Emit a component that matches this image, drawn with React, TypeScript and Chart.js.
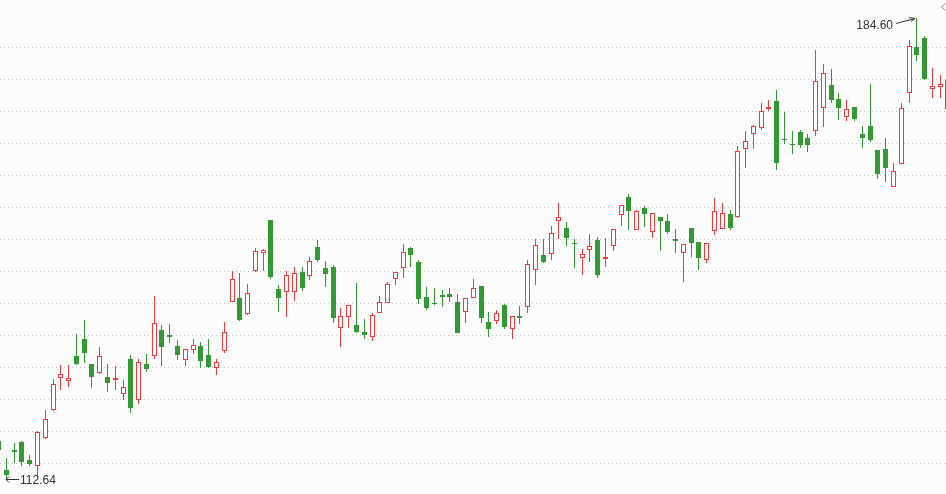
import React, { useEffect, useRef } from "react";
import { Chart, registerables } from "chart.js";

Chart.register(...registerables);

// Index of the first candle in the arrays (one candle is cut off at the left edge)
const FIRST_INDEX = -1;

const opens = [
  118.48, 113.91, 117.0, 118.28, 115.47, 114.73, 119.11, 123.48, 128.39, 127.92,
  131.72, 134.38, 130.47, 129.27, 128.44, 128.08, 125.89, 131.25, 124.95, 130.47,
  131.83, 135.78, 135.0, 133.28, 131.2, 132.86, 133.28, 131.88, 130.05, 132.7,
  140.27, 140.78, 138.48, 145.2, 147.92, 152.97, 142.19, 141.83, 141.83, 144.84,
  144.33, 148.75, 145.42, 145.63, 136.2, 137.92, 136.52, 135.47, 134.8, 138.55,
  140.11, 143.86, 145.58, 148.59, 146.41, 140.94, 140.05, 141.23, 141.41, 140.16,
  138.7, 140.89, 142.66, 137.03, 137.3, 139.69, 136.05, 137.95, 139.48, 145.27,
  147.45, 147.77, 152.92, 151.72, 149.36, 147.23, 148.39, 149.84, 146.98, 149.02,
  153.86, 156.52, 151.52, 154.8, 151.2, 153.39, 152.77, 149.98, 147.92, 151.67,
  149.48, 146.83, 151.36, 151.67, 153.86, 153.64, 164.17, 166.52, 167.45, 170.64,
  171.52, 165.7, 164.83, 166.67, 165.73, 166.98, 170.58, 174.02, 171.83, 169.17,
  170.58, 166.36, 167.66, 163.86, 164.02, 158.23, 161.92, 172.92, 179.95, 181.36,
  173.55, 173.86, 174.9,
];

const highs = [
  119.06, 115.78, 118.17, 118.44, 116.25, 120.0, 123.28, 128.13, 130.31, 130.31,
  135.16, 137.34, 130.47, 133.08, 130.42, 130.11, 127.97, 131.88, 131.25, 132.03,
  141.09, 136.56, 136.67, 134.22, 132.77, 134.38, 133.91, 134.38, 131.25, 137.03,
  145.0, 144.73, 142.97, 148.59, 148.44, 152.97, 142.81, 145.0, 145.63, 145.63,
  147.19, 149.84, 146.56, 145.94, 139.22, 139.64, 143.13, 137.5, 138.39, 141.05,
  143.33, 144.8, 149.22, 148.75, 146.67, 142.5, 142.34, 142.03, 142.34, 141.41,
  140.73, 143.75, 142.66, 138.59, 138.91, 139.84, 137.92, 139.53, 146.72, 150.0,
  150.0, 151.98, 155.63, 152.66, 150.0, 148.44, 150.78, 150.27, 150.16, 151.52,
  155.27, 157.03, 154.48, 155.11, 154.02, 153.39, 153.86, 151.52, 149.17, 151.67,
  149.48, 149.33, 156.41, 155.58, 154.48, 164.48, 166.88, 167.77, 171.2, 171.67,
  173.23, 169.8, 166.83, 166.98, 166.36, 179.53, 177.34, 176.56, 172.77, 171.72,
  170.58, 167.66, 174.17, 163.86, 165.83, 161.83, 171.2, 181.05, 184.6, 181.67,
  176.67, 175.58, 175.0,
];

const lows = [
  116.72, 112.64, 115.16, 114.64, 114.73, 112.86, 118.95, 123.33, 126.52, 127.08,
  130.47, 130.83, 126.92, 129.02, 126.3, 126.61, 125.0, 123.02, 124.33, 129.42,
  131.45, 130.36, 133.95, 131.3, 130.36, 132.23, 130.0, 130.05, 128.95, 132.39,
  140.27, 137.39, 138.33, 145.05, 145.2, 143.95, 138.8, 138.02, 140.52, 142.08,
  143.8, 146.61, 142.7, 137.08, 133.33, 136.3, 135.42, 134.58, 134.17, 138.55,
  140.11, 142.92, 144.11, 145.83, 140.05, 139.11, 139.84, 139.58, 140.36, 135.52,
  137.08, 140.89, 137.08, 134.84, 136.92, 136.14, 134.48, 136.83, 138.64, 143.02,
  146.45, 146.83, 150.11, 149.11, 145.67, 144.58, 146.61, 144.11, 145.83, 148.23,
  152.14, 151.61, 151.52, 151.98, 150.36, 148.33, 150.98, 148.02, 143.48, 147.39,
  145.36, 146.36, 150.73, 151.67, 151.52, 153.48, 161.2, 164.17, 167.14, 170.11,
  160.89, 165.05, 163.48, 164.42, 163.8, 166.2, 167.7, 171.45, 168.8, 168.64,
  168.59, 164.42, 165.36, 159.58, 159.11, 158.23, 161.92, 171.45, 177.97, 175.05,
  172.23, 172.14, 170.16,
];

const closes = [
  117.19, 113.33, 116.95, 115.36, 115.0, 119.84, 121.88, 127.34, 128.91, 128.28,
  130.58, 132.39, 128.64, 131.67, 127.7, 128.23, 126.83, 123.8, 130.73, 129.89,
  136.83, 133.33, 134.92, 132.08, 132.77, 133.39, 131.14, 130.2, 130.73, 135.47,
  143.75, 137.5, 141.56, 148.13, 148.23, 144.27, 140.98, 144.33, 144.69, 142.55,
  146.52, 146.92, 144.64, 137.86, 137.92, 139.64, 135.58, 135.2, 138.08, 140.11,
  142.92, 144.8, 147.92, 147.61, 140.83, 139.42, 139.98, 141.17, 141.14, 135.52,
  140.73, 142.3, 137.86, 136.14, 138.39, 136.45, 137.92, 137.89, 146.09, 149.02,
  146.61, 150.89, 153.39, 150.36, 149.3, 147.61, 148.86, 144.58, 147.19, 151.52,
  155.27, 154.48, 154.33, 154.02, 154.02, 152.92, 151.3, 149.92, 149.17, 149.58,
  147.23, 149.33, 154.42, 154.02, 151.83, 163.7, 165.27, 167.61, 169.95, 170.7,
  162.08, 165.64, 164.77, 164.89, 164.89, 174.64, 175.89, 171.92, 170.58, 170.27,
  168.86, 165.89, 165.58, 160.36, 161.3, 160.67, 170.42, 180.11, 178.95, 175.2,
  173.86, 174.17, 170.47,
];

// Horizontal dotted guide levels
const gridLevels = [115, 120, 125, 130, 135, 140, 145, 150, 155, 160, 165, 170, 175, 180];

// Visible index / price window
const X_MIN = -0.815;
const X_MAX = 120.75;
const Y_MIN = 110.16;
const Y_MAX = 187.34;
// Visible candle index range for the high/low markers
const VISIBLE_FROM = 0;
const VISIBLE_TO = 120;

const UP = "#f03c3c";
const DOWN = "#339933";
const BG = "#fcfcfc";
const GRID = "#c4c4c4";
const TEXT = "#333333";
const FONT = '12px "Liberation Sans", Arial, sans-serif';

const candlePlugin = {
  id: "candles",
  beforeDraw(chart: any) {
    const ctx = chart.ctx;
    ctx.save();
    ctx.fillStyle = BG;
    ctx.fillRect(0, 0, chart.width, chart.height);
    ctx.restore();
  },
  beforeDatasetsDraw(chart: any) {
    const ctx = chart.ctx;
    const ys = chart.scales.y;
    const area = chart.chartArea;
    ctx.save();
    ctx.fillStyle = GRID;
    for (const v of gridLevels) {
      const y = Math.round(ys.getPixelForValue(v));
      for (let x = Math.floor(area.left); x < area.right; x += 4) {
        ctx.fillRect(x, y, 1, 1);
      }
    }
    ctx.restore();
  },
  afterDatasetsDraw(chart: any) {
    const ctx = chart.ctx;
    const xs = chart.scales.x;
    const ys = chart.scales.y;
    const area = chart.chartArea;
    ctx.save();
    ctx.beginPath();
    ctx.rect(area.left, area.top, area.right - area.left, area.bottom - area.top);
    ctx.clip();
    for (let k = 0; k < opens.length; k++) {
      const idx = FIRST_INDEX + k;
      const o = opens[k], h = highs[k], l = lows[k], c = closes[k];
      const up = c >= o;
      const cx = Math.floor(xs.getPixelForValue(idx));
      const yH = Math.round(ys.getPixelForValue(h));
      const yL = Math.round(ys.getPixelForValue(l));
      const yT = Math.round(ys.getPixelForValue(Math.max(o, c)));
      let yB = Math.round(ys.getPixelForValue(Math.min(o, c)));
      const col = up ? UP : DOWN;
      ctx.fillStyle = col;
      ctx.fillRect(cx, yH, 1, Math.max(1, yL - yH + 1));
      if (up) {
        if (yB - yT < 1) yB = yT + 1;
        ctx.fillStyle = UP;
        ctx.fillRect(cx - 2, yT, 5, yB - yT + 1);
        if (yB - yT >= 2) {
          ctx.fillStyle = BG;
          ctx.fillRect(cx - 1, yT + 1, 3, yB - yT - 1);
        }
      } else {
        ctx.fillStyle = DOWN;
        ctx.fillRect(cx - 2, yT, 5, Math.max(1, yB - yT + 1));
      }
    }
    ctx.restore();

    // High / low markers
    let hiK = FIRST_INDEX + VISIBLE_FROM, loK = hiK;
    let hiV = -Infinity, loV = Infinity;
    for (let idx = VISIBLE_FROM; idx <= VISIBLE_TO; idx++) {
      const k = idx - FIRST_INDEX;
      if (highs[k] > hiV) { hiV = highs[k]; hiK = idx; }
      if (lows[k] < loV) { loV = lows[k]; loK = idx; }
    }
    ctx.save();
    ctx.font = FONT;
    ctx.fillStyle = TEXT;
    ctx.strokeStyle = TEXT;
    ctx.lineWidth = 1;

    // max label
    const hx = xs.getPixelForValue(hiK);
    const hy = ys.getPixelForValue(hiV);
    ctx.textAlign = "right";
    ctx.textBaseline = "alphabetic";
    ctx.fillText(hiV.toFixed(2), Math.round(hx) - 24, Math.round(hy) + 11);
    const ax0 = Math.round(hx) - 21, ay0 = Math.round(hy) + 5.5;
    const ax1 = Math.round(hx) - 2, ay1 = Math.round(hy) + 0.5;
    ctx.beginPath();
    ctx.moveTo(ax0, ay0);
    ctx.lineTo(ax1, ay1);
    ctx.moveTo(ax1, ay1);
    ctx.lineTo(ax1 - 6, ay1 - 1);
    ctx.moveTo(ax1, ay1);
    ctx.lineTo(ax1 - 4, ay1 + 3);
    ctx.stroke();

    // min label
    const lx = Math.round(xs.getPixelForValue(loK));
    const ly = Math.round(ys.getPixelForValue(loV));
    ctx.textAlign = "left";
    ctx.fillText(loV.toFixed(2), lx + 14, ly + 6);
    ctx.beginPath();
    ctx.moveTo(lx + 13, ly + 1.5);
    ctx.lineTo(lx, ly + 1.5);
    ctx.moveTo(lx, ly + 1.5);
    ctx.lineTo(lx + 3, ly - 1.5);
    ctx.moveTo(lx, ly + 1.5);
    ctx.lineTo(lx + 3, ly + 4.5);
    ctx.stroke();

    // small collapse chevron at top-right
    ctx.strokeStyle = "#888888";
    ctx.beginPath();
    ctx.moveTo(area.right - 0.5, 3.5);
    ctx.lineTo(area.right - 4.5, 7);
    ctx.lineTo(area.right - 0.5, 10.5);
    ctx.stroke();
    ctx.restore();
  },
};

export default function App() {
  const canvasRef = useRef<HTMLCanvasElement | null>(null);

  useEffect(() => {
    const canvas = canvasRef.current;
    if (!canvas) return;
    const chart = new Chart(canvas, {
      type: "scatter",
      data: {
        datasets: [
          {
            label: "close",
            data: closes.map((c, k) => ({ x: FIRST_INDEX + k, y: c })),
            pointRadius: 0,
            pointHoverRadius: 0,
            showLine: false,
          },
        ],
      },
      options: {
        animation: false,
        responsive: false,
        devicePixelRatio: 1,
        events: [],
        layout: { padding: 0 },
        plugins: {
          legend: { display: false },
          tooltip: { enabled: false },
        },
        scales: {
          x: { type: "linear", min: X_MIN, max: X_MAX, display: false },
          y: { type: "linear", min: Y_MIN, max: Y_MAX, display: false },
        },
      },
      plugins: [candlePlugin],
    });
    return () => chart.destroy();
  }, []);

  return (
    <canvas
      ref={canvasRef}
      width={946}
      height={494}
      style={{ position: "fixed", left: 0, top: 0, width: 946, height: 494, display: "block" }}
    />
  );
}
